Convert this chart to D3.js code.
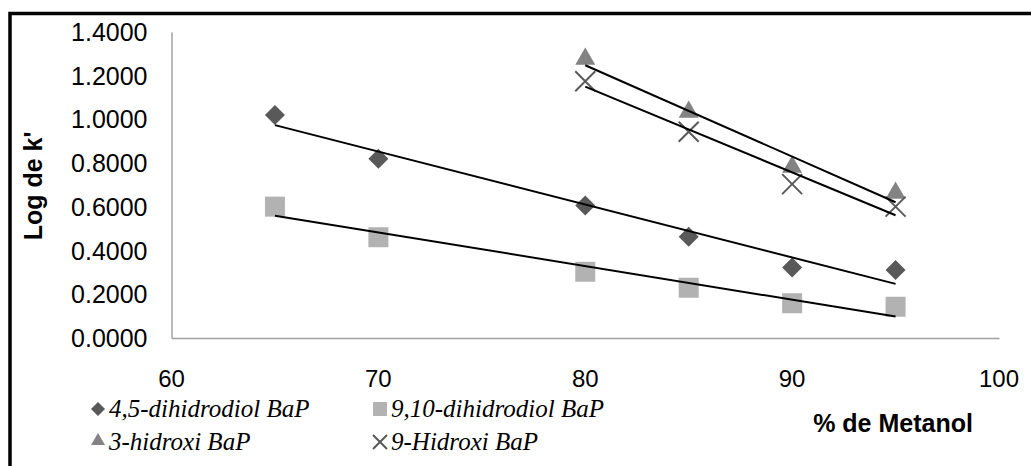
<!DOCTYPE html>
<html>
<head>
<meta charset="utf-8">
<script src="https://cdn.jsdelivr.net/npm/d3@7"></script>
<style>
  body { margin: 0; background: #fff; }
  svg { display: block; }
  .tick-label { font-family: "Liberation Sans", Arial, sans-serif; fill: #000; }
  .axis-title { font-family: "Liberation Sans", Arial, sans-serif; font-weight: bold; fill: #000; }
  .legend-text { font-family: "Liberation Serif", "Times New Roman", serif; font-style: italic; fill: #000; }
</style>
</head>
<body>
<div id="chart"></div>
<script>
const metanol = [65, 70, 80, 85, 90, 95];
const metanolHidroxi = [80, 85, 90, 95];
const dihidrodiol45 = [1.020, 0.820, 0.606, 0.463, 0.323, 0.311];
const dihidrodiol910 = [0.601, 0.461, 0.303, 0.230, 0.159, 0.143];
const hidroxi3 = [1.272, 1.029, 0.778, 0.659];
const hidroxi9 = [1.175, 0.944, 0.704, 0.601];
const xTicks = [60, 70, 80, 90, 100];
const yTicks = [0, 0.2, 0.4, 0.6, 0.8, 1.0, 1.2, 1.4];

const series = [
  { name: "4,5-dihidrodiol BaP", xs: metanol, ys: dihidrodiol45, shape: "diamond", color: "#595959" },
  { name: "9,10-dihidrodiol BaP", xs: metanol, ys: dihidrodiol910, shape: "square", color: "#b2b2b2" },
  { name: "3-hidroxi BaP", xs: metanolHidroxi, ys: hidroxi3, shape: "triangle", color: "#838383" },
  { name: "9-Hidroxi BaP", xs: metanolHidroxi, ys: hidroxi9, shape: "cross", color: "#595959" }
];

const width = 1031;
const height = 466;
const margin = { top: 32, right: 32, bottom: 128, left: 171.5 };
const innerWidth = width - margin.left - margin.right;
const innerHeight = height - margin.top - margin.bottom;

const xScale = d3.scaleLinear().domain([60, 100]).range([0, innerWidth]);
const yScale = d3.scaleLinear().domain([0, 1.4]).range([innerHeight, 0]);

const svg = d3.select("#chart").append("svg").attr("width", width).attr("height", height);

// outer frame (only top and left edges visible in the crop)
svg.append("path")
  .attr("d", `M10,${height} L10,13.5 L${width},13.5`)
  .attr("fill", "none").attr("stroke", "#000").attr("stroke-width", 3.5);

const chart = svg.append("g").attr("transform", `translate(${margin.left},${margin.top})`);

// markers
function drawMarker(sel, shape, color, s) {
  if (shape === "diamond") {
    sel.append("path").attr("d", d3.symbol(d3.symbolSquare, s * s / 2)()).attr("transform", "rotate(45)").attr("fill", color);
  } else if (shape === "square") {
    sel.append("path").attr("d", d3.symbol(d3.symbolSquare, s * s)()).attr("fill", color);
  } else if (shape === "triangle") {
    sel.append("path").attr("d", d3.symbol(d3.symbolTriangle, s * s * Math.sqrt(3) / 4)()).attr("transform", "translate(0,-1)").attr("fill", color);
  } else {
    const h = s / 2;
    sel.append("path").attr("d", `M${-h},${-h}L${h},${h}M${-h},${h}L${h},${-h}`).attr("stroke", color).attr("stroke-width", 2).attr("fill", "none");
  }
}

// axes lines
chart.append("g").attr("transform", `translate(0,${innerHeight})`)
  .call(d3.axisBottom(xScale).tickValues(xTicks).tickSize(0).tickFormat(""))
  .call(g => g.select(".domain").attr("stroke", "#a0a0a0").attr("stroke-width", 1.5));
chart.append("g")
  .call(d3.axisLeft(yScale).tickValues(yTicks).tickSize(0).tickFormat(""))
  .call(g => g.select(".domain").attr("stroke", "#a0a0a0").attr("stroke-width", 1.5));

// tick labels
chart.selectAll(".xlab").data(xTicks).enter().append("text")
  .attr("class", "tick-label").attr("x", d => xScale(d)).attr("y", innerHeight + 49)
  .attr("text-anchor", "middle").attr("font-size", 24).text(d => d);
chart.selectAll(".ylab").data(yTicks).enter().append("text")
  .attr("class", "tick-label").attr("x", -24).attr("y", d => yScale(d)).attr("dy", "0.36em")
  .attr("text-anchor", "end").attr("font-size", 25).text(d => d3.format(".4f")(d));

// points
series.forEach(s => {
  chart.selectAll(null).data(s.xs.map((x, i) => [x, s.ys[i]])).enter().append("g")
    .attr("transform", d => `translate(${xScale(d[0])},${yScale(d[1])})`)
    .each(function () { drawMarker(d3.select(this), s.shape, s.color, 20); });
});

// linear trendlines (least squares on each series)
series.forEach(s => {
  const mx = d3.mean(s.xs), my = d3.mean(s.ys);
  const slope = d3.sum(s.xs, (x, i) => (x - mx) * (s.ys[i] - my)) / d3.sum(s.xs, x => (x - mx) ** 2);
  const x0 = d3.min(s.xs), x1 = d3.max(s.xs);
  const f = x => my + slope * (x - mx);
  chart.append("line")
    .attr("x1", xScale(x0)).attr("y1", yScale(f(x0)))
    .attr("x2", xScale(x1)).attr("y2", yScale(f(x1)))
    .attr("stroke", "#000").attr("stroke-width", 2);
});

// axis titles
svg.append("text").attr("class", "axis-title").attr("font-size", 25)
  .attr("transform", "translate(42,186) rotate(-90)").attr("text-anchor", "middle").text("Log de k'");
svg.append("text").attr("class", "axis-title").attr("font-size", 25)
  .attr("x", 893).attr("y", 432).attr("text-anchor", "middle").text("% de Metanol");

// legend
const legendPos = [[98, 409], [380, 409], [98, 442], [380, 442]];
series.forEach((s, i) => {
  const g = svg.append("g").attr("transform", `translate(${legendPos[i][0]},${legendPos[i][1]})`);
  drawMarker(g, s.shape, s.color, 14);
  g.append("text").attr("class", "legend-text").attr("x", 11).attr("y", 8).attr("font-size", 25).text(s.name);
});
</script>
</body>
</html>
